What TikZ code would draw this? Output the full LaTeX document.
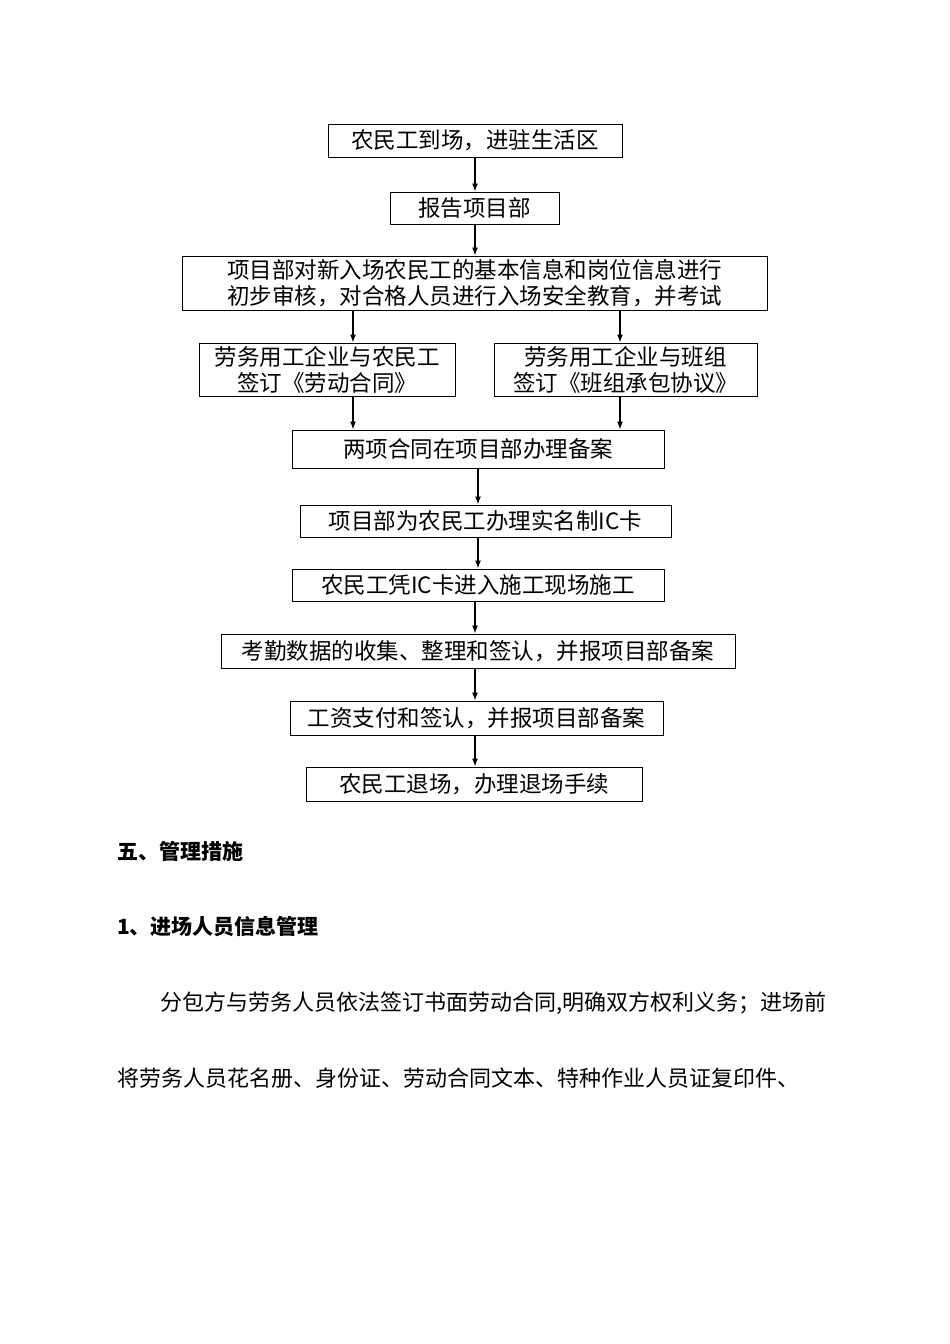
\documentclass[tikz,border=0pt]{standalone}
\usepackage{fontspec}
\setmainfont{Noto Sans CJK SC}
\usetikzlibrary{arrows.meta}
\begin{document}
\begin{tikzpicture}[x=1pt,y=-1pt,
  box/.style={draw,line width=1pt,inner sep=0pt,align=center,font=\fontsize{22.5}{26}\selectfont},
  arr/.style={-{Latex[length=8pt,width=6pt]},line width=1.2pt},
  txt/.style={anchor=west,inner sep=0pt,font=\fontsize{22}{26}\selectfont}]
\useasboundingbox (0,0) rectangle (950,1344);
\newcommand{\bx}[6]{\node[box,minimum width=#4-#3,minimum height=#6-#5] (#1) at ({(#3+#4)/2},{(#5+#6)/2}) {#2};}
\bx{n1}{农民工到场，进驻生活区}{328}{622}{124}{157}
\bx{n2}{报告项目部}{390}{559}{192}{224}
\bx{n3}{项目部对新入场农民工的基本信息和岗位信息进行\\初步审核，对合格人员进行入场安全教育，并考试}{182}{767}{256}{310}
\bx{n4}{劳务用工企业与农民工\\签订《劳动合同》}{199}{455}{343}{396}
\bx{n5}{劳务用工企业与班组\\签订《班组承包协议》}{494}{757}{343}{396}
\bx{n6}{两项合同在项目部办理备案}{292}{664}{430}{468}
\bx{n7}{项目部为农民工办理实名制IC卡}{300}{671}{505}{537}
\bx{n8}{农民工凭IC卡进入施工现场施工}{292}{664}{569}{601}
\bx{n9}{考勤数据的收集、整理和签认，并报项目部备案}{221}{735}{634}{668}
\bx{n10}{工资支付和签认，并报项目部备案}{290}{663}{701}{735}
\bx{n11}{农民工退场，办理退场手续}{306}{642}{767}{801}
\coordinate (cA) at (475,0);
\coordinate (cL) at (353,0);
\coordinate (cR) at (620,0);
\coordinate (cB) at (478,0);
\draw[arr] (n1.south -| cA) -- (n2.north -| cA);
\draw[arr] (n2.south -| cA) -- (n3.north -| cA);
\draw[arr] (n3.south -| cL) -- (n4.north -| cL);
\draw[arr] (n3.south -| cR) -- (n5.north -| cR);
\draw[arr] (n4.south -| cL) -- (n6.north -| cL);
\draw[arr] (n5.south -| cR) -- (n6.north -| cR);
\draw[arr] (n6.south -| cB) -- (n7.north -| cB);
\draw[arr] (n7.south -| cB) -- (n8.north -| cB);
\draw[arr] (n8.south -| cA) -- (n9.north -| cA);
\draw[arr] (n9.south -| cA) -- (n10.north -| cA);
\draw[arr] (n10.south -| cA) -- (n11.north -| cA);
\node[txt,font=\fontsize{21}{26}\selectfont\bfseries] (h1) at (117,851) {五、管理措施};
\node[txt,font=\fontsize{21}{26}\selectfont\bfseries] (h2) at (117,927) {1、进场人员信息管理};
\node[txt] (p1) at (160,1003) {分包方与劳务人员依法签订书面劳动合同,明确双方权利义务；进场前};
\node[txt] (p2) at (117,1078) {将劳务人员花名册、身份证、劳动合同文本、特种作业人员证复印件、};
\end{tikzpicture}
\end{document}
